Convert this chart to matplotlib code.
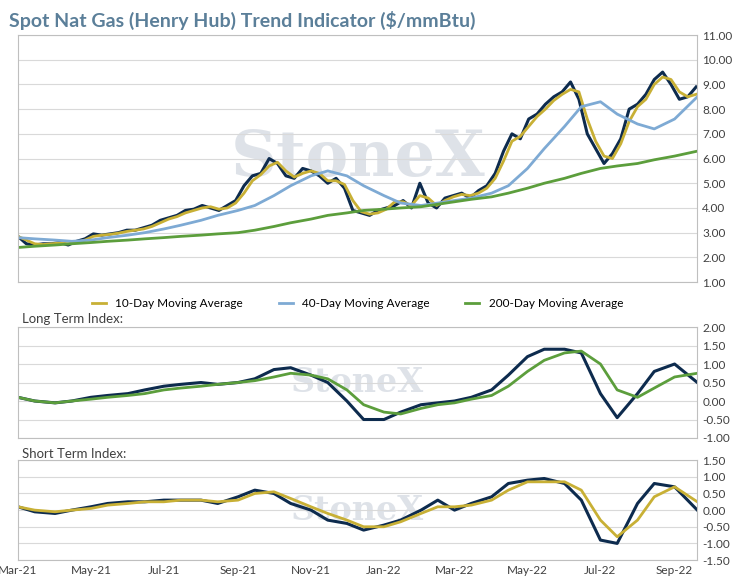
#spot nat gas trend indicator

import matplotlib.pyplot as plt
import matplotlib.dates as mdates
import numpy as np
import pandas as pd

plt.rcParams['font.family'] = ['Lato', 'DejaVu Sans']

navy = '#0d2b4e'
gold = '#c8b035'
blue = '#7eaad4'
green = '#5c9e3c'
grid = '#d9d9d9'

#weekly spot + 10 day average
weeks = pd.date_range('2021-03-01', periods=82, freq='7D')
spot = [2.85,2.55,2.50,2.55,2.55, 2.6,2.5,2.65,2.75, 2.95,2.9,2.95,3.0,3.1,
	3.1,3.2,3.3,3.5, 3.6,3.7,3.9,3.95, 4.1,4.0,3.9,4.1,4.3, 4.9,5.3,5.4,6.0,
	5.8,5.3,5.2,5.6, 5.5,5.3,5.0,5.2,4.8, 3.9,3.8,3.7,3.9, 4.0,4.1,4.3,4.0,5.0,
	4.2,4.0,4.4,4.5, 4.6,4.4,4.7,4.9, 5.4,6.3,7.0,6.8, 7.6,7.8,8.2,8.5,8.7,
	9.1,8.4,7.0,6.4, 5.8,6.2,6.8,8.0, 8.2,8.6,9.2,9.5,9.0, 8.4,8.5,8.9]
ma10 = [2.85,2.7,2.55,2.52,2.55, 2.58,2.55,2.6,2.7, 2.85,2.9,2.93,2.98,3.05,
	3.1,3.15,3.25,3.4, 3.55,3.65,3.8,3.9, 4.0,4.05,3.95,4.0,4.2, 4.6,5.1,5.35,5.7,
	5.85,5.5,5.25,5.4, 5.5,5.4,5.1,5.1,4.95, 4.3,3.85,3.75,3.8, 3.95,4.25,4.25,4.1,4.5,
	4.4,4.1,4.3,4.45, 4.55,4.5,4.6,4.8, 5.2,5.9,6.7,6.9, 7.3,7.7,8.0,8.35,8.6,
	8.8,8.7,7.6,6.7, 6.1,6.0,6.6,7.5, 8.1,8.4,9.0,9.3,9.2, 8.7,8.5,8.6]

#semi monthly slow averages
half = pd.to_datetime([f'{y}-{m:02d}-{d:02d}' for y, m in
	[(2021, k) for k in range(3, 13)] + [(2022, k) for k in range(1, 10)] for d in (1, 15)])
half = half[:-1].append(pd.to_datetime(['2022-09-20']))
ma40 = [2.8,2.75,2.7,2.65,2.7,2.8,2.9,3.0,3.15,3.3,3.5,3.7,3.9,4.1,4.5,4.9,5.3,5.5,5.3,4.9,
	4.5,4.2,4.1,4.2,4.3,4.4,4.6,4.9,5.6,6.4,7.3,8.1,8.3,7.8,7.4,7.2,7.6,8.5]
ma200 = [2.4,2.45,2.5,2.55,2.6,2.65,2.7,2.75,2.8,2.85,2.9,2.95,3.0,3.1,3.25,3.4,3.55,3.7,3.8,3.9,
	3.95,4.0,4.05,4.15,4.25,4.35,4.45,4.6,4.8,5.0,5.2,5.4,5.6,5.7,5.8,5.95,6.1,6.3]

#semi monthly indices
long_idx = [0.1,0.0,-0.05,0.0,0.1,0.15,0.2,0.3,0.4,0.45,0.5,0.45,0.5,0.6,0.85,0.9,0.7,0.5,0.0,-0.5,
	-0.5,-0.3,-0.1,-0.05,0.0,0.1,0.3,0.7,1.2,1.4,1.4,1.3,0.2,-0.45,0.2,0.8,1.0,0.5]
long_avg = [0.1,0.0,-0.05,0.0,0.05,0.1,0.15,0.2,0.3,0.35,0.4,0.45,0.5,0.55,0.65,0.75,0.7,0.6,0.3,-0.1,
	-0.3,-0.35,-0.2,-0.1,-0.05,0.05,0.15,0.4,0.8,1.1,1.3,1.35,1.0,0.3,0.1,0.35,0.65,0.75]
short_idx = [0.1,-0.05,-0.1,0.0,0.1,0.2,0.25,0.25,0.3,0.3,0.3,0.2,0.4,0.6,0.5,0.2,0.0,-0.3,-0.4,-0.6,
	-0.45,-0.3,0.0,0.3,0.0,0.2,0.4,0.8,0.9,0.95,0.8,0.3,-0.9,-1.0,0.2,0.8,0.7,0.0]
short_avg = [0.1,0.0,-0.05,0.0,0.05,0.15,0.2,0.25,0.25,0.3,0.3,0.25,0.3,0.5,0.55,0.35,0.1,-0.1,-0.3,-0.5,
	-0.5,-0.35,-0.1,0.1,0.1,0.15,0.3,0.6,0.85,0.85,0.85,0.6,-0.3,-0.8,-0.3,0.4,0.7,0.25]

fig = plt.figure(figsize=(7.49, 5.84), dpi=100)
xmin, xmax = pd.Timestamp('2021-03-01'), pd.Timestamp('2022-09-20')

def style(ax, lo, hi, step):
	ax.set_xlim(xmin, xmax)
	ax.set_ylim(lo, hi)
	ax.set_yticks(np.arange(lo, hi + 0.001, step))
	ax.yaxis.tick_right()
	ax.yaxis.set_major_formatter(plt.FormatStrFormatter('%.2f'))
	ax.tick_params(length=0, labelsize=8.5, colors='#404040')
	ax.grid(axis='y', color=grid, linewidth=0.8)
	ax.set_axisbelow(True)
	for s in ax.spines.values():
		s.set_color('#bfbfbf')
	ax.xaxis.set_major_locator(mdates.MonthLocator(bymonth=[1, 3, 5, 7, 9, 11]))
	ax.xaxis.set_major_formatter(mdates.DateFormatter('%b-%y'))

def mark(ax, size):
	ax.text(0.5, 0.5, 'StoneX', transform=ax.transAxes, ha='center', va='center',
		fontsize=size, family='DejaVu Serif', fontweight='bold', color='#7f8fa6', alpha=0.25, zorder=0)

#top panel
ax1 = fig.add_axes([0.024, 0.517, 0.907, 0.423])
style(ax1, 1, 11, 1)
mark(ax1, 46)
ax1.plot(weeks, spot, color=navy, linewidth=2.2)
ax1.plot(weeks, ma10, color=gold, linewidth=2, label='10-Day Moving Average')
ax1.plot(half, ma40, color=blue, linewidth=2, label='40-Day Moving Average')
ax1.plot(half, ma200, color=green, linewidth=2, label='200-Day Moving Average')
ax1.set_xticklabels([])
ax1.legend(loc='upper center', bbox_to_anchor=(0.5, -0.02), ncol=3, frameon=False,
	fontsize=8.5, handlelength=1.2, columnspacing=3)
fig.text(0.012, 0.965, 'Spot Nat Gas (Henry Hub) Trend Indicator ($/mmBtu)', fontsize=14,
	fontweight='bold', color='#5b7f99', va='center')

#long term
ax2 = fig.add_axes([0.024, 0.25, 0.907, 0.19])
style(ax2, -1, 2, 0.5)
mark(ax2, 24)
ax2.plot(half, long_idx, color=navy, linewidth=2.2)
ax2.plot(half, long_avg, color=green, linewidth=2)
ax2.set_xticklabels([])
fig.text(0.03, 0.447, 'Long Term Index:', fontsize=9.5, color='#404040')

#short term
ax3 = fig.add_axes([0.024, 0.041, 0.907, 0.171])
style(ax3, -1.5, 1.5, 0.5)
mark(ax3, 24)
ax3.plot(half, short_idx, color=navy, linewidth=2.2)
ax3.plot(half, short_avg, color=gold, linewidth=2)
fig.text(0.03, 0.215, 'Short Term Index:', fontsize=9.5, color='#404040')

plt.savefig('out.png', dpi=100)
